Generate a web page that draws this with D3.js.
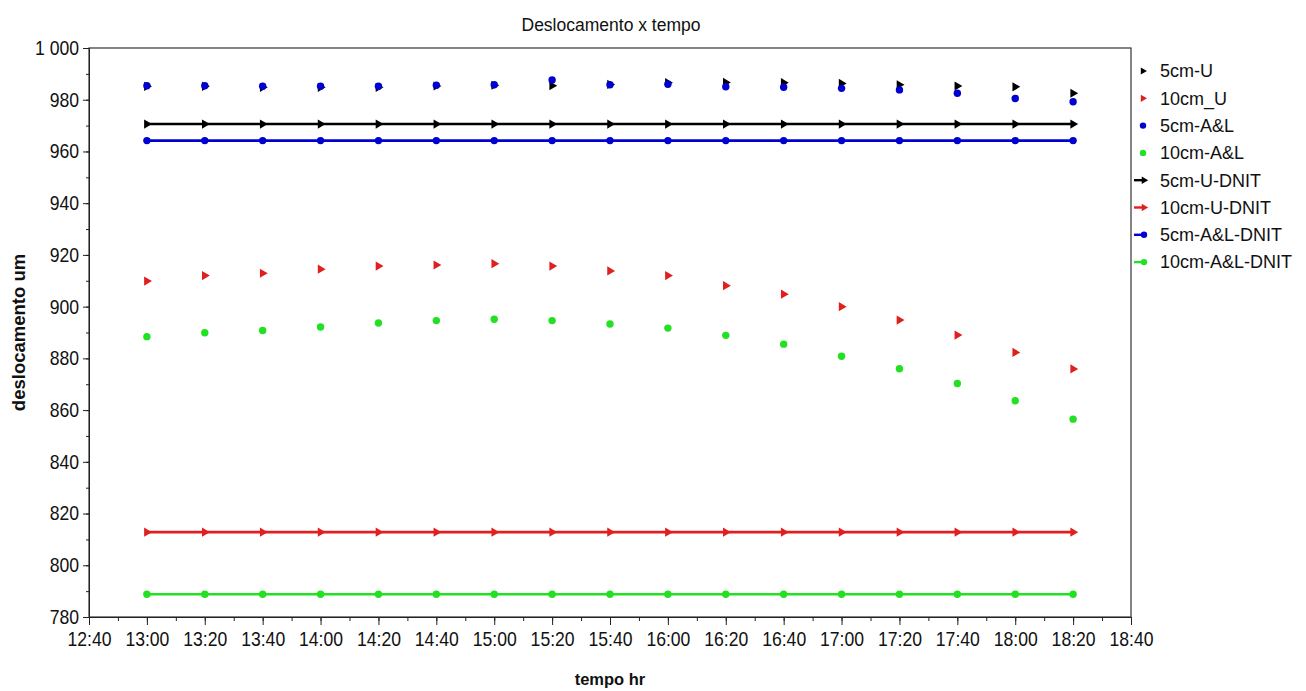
<!DOCTYPE html>
<html><head><meta charset="utf-8">
<script src="https://cdn.jsdelivr.net/npm/d3@7"></script>
<style>
body{margin:0;background:#fff;}
text{font-family:"Liberation Sans",Arial,sans-serif;}
</style></head>
<body><svg id="c" width="1306" height="691"></svg>
<script>
const times = ["13:00","13:20","13:40","14:00","14:20","14:40","15:00","15:20","15:40","16:00","16:20","16:40","17:00","17:20","17:40","18:00","18:20"];
const s5cmU   = [985.2,985.2,984.8,984.8,984.8,985.3,985.6,985.4,985.9,986.6,986.7,986.6,986.3,985.8,985.3,985.0,982.5];
const s10cmU  = [909.9,912.0,912.9,914.5,915.7,916.1,916.6,915.7,913.8,912.0,908.1,904.8,900.0,894.8,889.0,882.3,875.9];
const s5cmAL  = [985.4,985.4,985.2,985.2,985.2,985.6,985.8,987.6,985.8,986.0,985.0,984.8,984.4,983.8,982.5,980.5,979.2];
const s10cmAL = [888.4,889.9,890.8,892.1,893.7,894.6,895.1,894.6,893.3,891.7,888.9,885.5,880.8,876.0,870.3,863.6,856.5];
const d5cmU   = [970.6,970.6,970.6,970.6,970.6,970.6,970.6,970.6,970.6,970.6,970.6,970.6,970.6,970.6,970.6,970.6,970.6];
const d10cmU  = [812.8,812.8,812.8,812.8,812.8,812.8,812.8,812.8,812.8,812.8,812.8,812.8,812.8,812.8,812.8,812.8,812.8];
const d5cmAL  = [964.2,964.2,964.2,964.2,964.2,964.2,964.2,964.2,964.2,964.2,964.2,964.2,964.2,964.2,964.2,964.2,964.2];
const d10cmAL = [788.8,788.8,788.8,788.8,788.8,788.8,788.8,788.8,788.8,788.8,788.8,788.8,788.8,788.8,788.8,788.8,788.8];
const xDomain = ["12:40","18:40"];
const yDomain = [780,1000];
const yTicks = [780,800,820,840,860,880,900,920,940,960,980,1000];
const legendLabels = ["5cm-U","10cm_U","5cm-A&L","10cm-A&L","5cm-U-DNIT","10cm-U-DNIT","5cm-A&L-DNIT","10cm-A&L-DNIT"];

const RED="#e01f1f", GREEN="#22e022", BLUE="#0000d0", BLACK="#000";
const series = [
  {name:legendLabels[0], vals:s5cmU,  color:BLACK, marker:"tri", line:false},
  {name:legendLabels[1], vals:s10cmU, color:RED,   marker:"tri", line:false},
  {name:legendLabels[2], vals:s5cmAL, color:BLUE,  marker:"dot", line:false},
  {name:legendLabels[3], vals:s10cmAL,color:GREEN, marker:"dot", line:false},
  {name:legendLabels[4], vals:d5cmU,  color:BLACK, marker:"tri", line:true},
  {name:legendLabels[5], vals:d10cmU, color:RED,   marker:"tri", line:true},
  {name:legendLabels[6], vals:d5cmAL, color:BLUE,  marker:"dot", line:true},
  {name:legendLabels[7], vals:d10cmAL,color:GREEN, marker:"dot", line:true}
];
const parse = d3.timeParse("%H:%M");
const svg = d3.select("#c");
const L=89,R=1131,T=48,B=617;
const x = d3.scaleTime().domain(xDomain.map(parse)).range([L,R]);
const y = d3.scaleLinear().domain(yDomain).range([B,T]);
const loc = d3.formatLocale({decimal:",",thousands:" ",grouping:[3],currency:["",""]});
const yfmt = loc.format(",d");

// frame
svg.append("rect").attr("x",L).attr("y",T).attr("width",R-L).attr("height",B-T)
  .attr("fill","none").attr("stroke","#333").attr("stroke-width",1.2);

// x axis minor
const xMinor = d3.timeMinute.every(10).range(parse("12:40"), d3.timeMinute.offset(parse("18:40"),1));
svg.append("g").attr("transform",`translate(0,${B})`)
  .call(d3.axisBottom(x).tickValues(xMinor).tickSize(4).tickFormat(""))
  .call(g=>g.select(".domain").remove())
  .call(g=>g.selectAll("line").attr("stroke","#222"));
const xMajor = d3.timeMinute.every(20).range(parse("12:40"), d3.timeMinute.offset(parse("18:40"),1));
svg.append("g").attr("transform",`translate(0,${B})`)
  .call(d3.axisBottom(x).tickValues(xMajor).tickSize(8).tickPadding(7).tickFormat(d3.timeFormat("%H:%M")))
  .call(g=>g.select(".domain").attr("stroke","#222"))
  .call(g=>g.selectAll("line").attr("stroke","#222"))
  .call(g=>g.selectAll("text").attr("font-size",20).attr("fill","#111").attr("font-family",'"Liberation Sans",Arial')
     .attr("transform","scale(0.88,1)"));

// y axis
const yMinor = d3.range(780,1001,10);
svg.append("g").attr("transform",`translate(${L},0)`)
  .call(d3.axisLeft(y).tickValues(yMinor).tickSize(3).tickFormat(""))
  .call(g=>g.select(".domain").remove())
  .call(g=>g.selectAll("line").attr("stroke","#222"));
svg.append("g").attr("transform",`translate(${L},0)`)
  .call(d3.axisLeft(y).tickValues(yTicks).tickSize(6).tickPadding(4).tickFormat(yfmt))
  .call(g=>g.select(".domain").attr("stroke","#222"))
  .call(g=>g.selectAll("text").attr("font-size",20).attr("fill","#111").attr("font-family",'"Liberation Sans",Arial')
     .attr("transform","scale(0.88,1)").attr("x",-10/0.88))
  .call(g=>g.selectAll("line").attr("stroke","#222"));

// title & labels
svg.append("text").attr("x",(L+R)/2+1).attr("y",31).attr("text-anchor","middle")
  .attr("font-size",17.5).attr("fill","#111").text("Deslocamento x tempo");
svg.append("text").attr("x",(L+R)/2).attr("y",685).attr("text-anchor","middle")
  .attr("font-size",16.5).attr("font-weight","bold").attr("fill","#111").text("tempo hr");
svg.append("text").attr("transform",`translate(25,${(T+B)/2}) rotate(-90)`).attr("text-anchor","middle")
  .attr("font-size",18.5).attr("font-weight","bold").attr("fill","#111").text("deslocamento um");

function drawMarker(g, m, color, cx, cy, sz){
  if(m==="tri"){
    const s = sz||4.6;
    g.append("path").attr("d",`M${cx-s*0.6},${cy-s}L${cx+s*1.1},${cy}L${cx-s*0.6},${cy+s}Z`).attr("fill",color);
  } else {
    g.append("circle").attr("cx",cx).attr("cy",cy).attr("r",sz||3.7).attr("fill",color);
  }
}
const plot = svg.append("g");
const lineGen = d3.line().x((d,i)=>x(parse(times[i]))).y(d=>y(d));
series.filter(s=>s.line).forEach(s=>{
  plot.append("path").attr("d",lineGen(s.vals)).attr("fill","none").attr("stroke",s.color).attr("stroke-width",2.6);
  s.vals.forEach((v,i)=>drawMarker(plot,s.marker,s.color,x(parse(times[i])),y(v)));
});
[series[0],series[1],series[3],series[2]].forEach(s=>{
  s.vals.forEach((v,i)=>drawMarker(plot,s.marker,s.color,x(parse(times[i])),y(v)));
});

// legend
const lg = svg.append("g");
series.forEach((s,i)=>{
  const ly = 71 + i*27.3;
  if(s.line){
    lg.append("line").attr("x1",1134).attr("x2",1145).attr("y1",ly).attr("y2",ly).attr("stroke",s.color).attr("stroke-width",2.4);
    drawMarker(lg,s.marker,s.color,1144,ly, s.marker==="tri"?3.8:3.2);
  } else {
    drawMarker(lg,s.marker,s.color,1143,ly, s.marker==="tri"?3.6:3.2);
  }
  lg.append("text").attr("x",1160).attr("y",ly).attr("dy","0.35em").attr("font-size",18).attr("fill","#111").text(s.name);
});
</script></body></html>
